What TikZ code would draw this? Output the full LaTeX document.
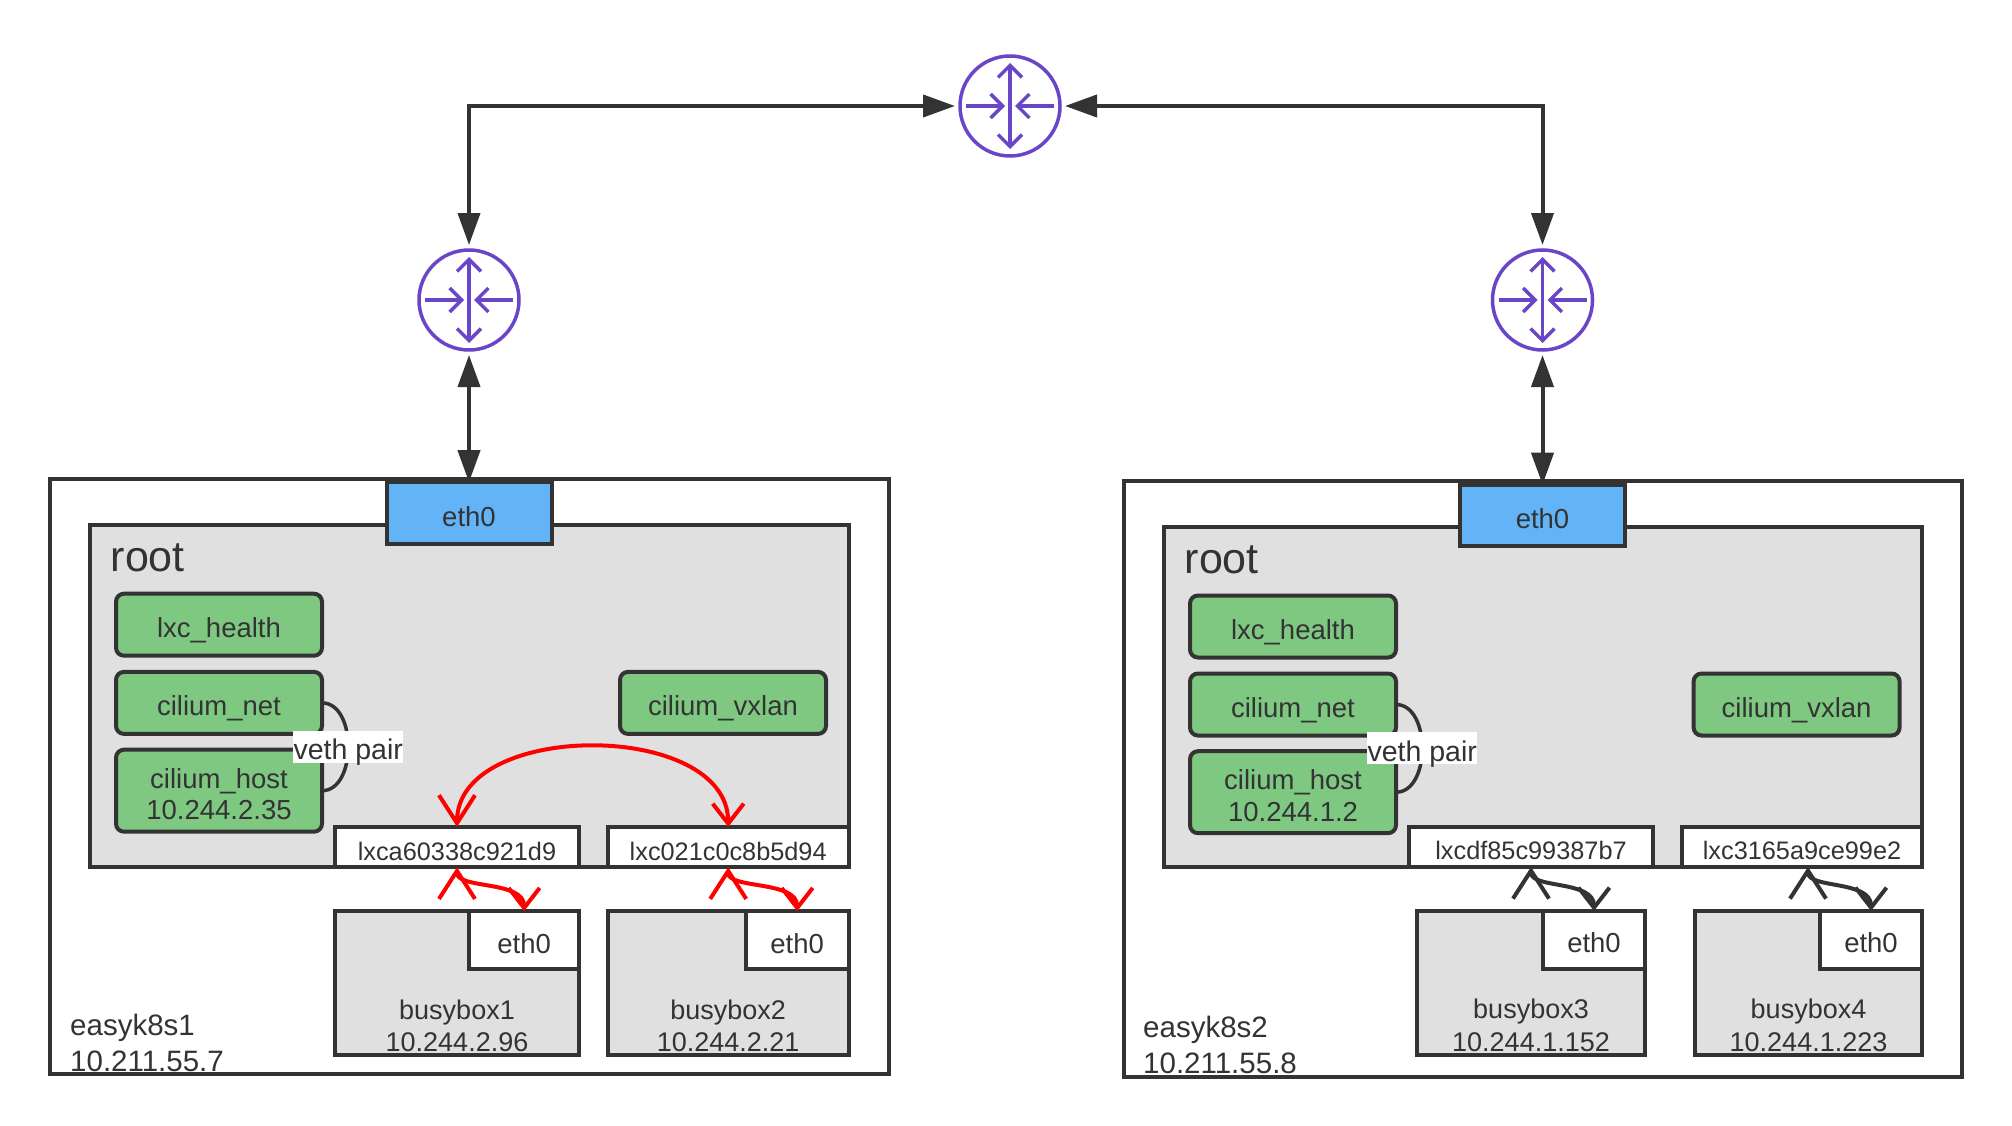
\documentclass[tikz,border=0pt]{standalone}
\usepackage{fontspec}
\setmainfont{Liberation Sans}
\usetikzlibrary{arrows.meta,positioning}
\definecolor{ink}{HTML}{333333}
\definecolor{panel}{HTML}{E0E0E0}
\definecolor{iface}{HTML}{7FC882}
\definecolor{nic}{HTML}{63B3F7}
\definecolor{hub}{HTML}{6A45C8}
\tikzset{
x=1pt,y=-1pt,
box/.style={draw=ink,line width=4pt,rectangle,anchor=north west,inner sep=0pt,outer sep=0pt,text=ink,text height=26pt,text depth=0pt,font=\fontsize{27.5}{32}\selectfont},
host/.style={box,fill=white},
netns/.style={box,fill=panel},
nic/.style={box,fill=nic},
port/.style={box,fill=white,font=\fontsize{25.3}{30}\selectfont},
green/.style={box,fill=iface,rounded corners=8pt,minimum width=206pt,minimum height=62pt},
pod/.style={box,fill=panel,align=center,text height=137.4pt,minimum height=144pt,font=\fontsize{27}{32.7}\selectfont},
podeth/.style={box,fill=white,minimum height=58pt},
router/.style={circle,draw=hub,line width=3.5pt,minimum size=100pt,inner sep=0pt,outer sep=5pt},
title/.style={anchor=base west,inner sep=0pt,text=ink,font=\fontsize{43}{50}\selectfont},
nodename/.style={anchor=base west,inner sep=0pt,text=ink,align=left,font=\fontsize{29.5}{36}\selectfont},
vethtag/.style={fill=white,inner sep=0pt,minimum width=110pt,minimum height=32pt,text=ink,text height=26pt,text depth=0pt,font=\fontsize{28.5}{32}\selectfont},
link/.style={draw=ink,line width=4pt,{Triangle[length=32pt,width=22pt]}-{Triangle[length=32pt,width=22pt]}},
veth/.style={draw=ink,line width=3.5pt},
flow/.style={line width=4pt,{Straight Barb[length=28pt,width=36pt]}-{Straight Barb[length=20pt,width=31pt]}},
icon/.style={draw=hub,line width=3.5pt}
}
\begin{document}
\begin{tikzpicture}
\useasboundingbox (0,0) rectangle (2012,1126);
\begin{scope}[yshift=-1.2pt]
% left machine
\node[host,minimum width=839pt,minimum height=595pt] (host1) at (50,478) {};
\node[netns,minimum width=758.6pt,minimum height=342.5pt] (root1) at (90,523.5) {};
\node[nic,minimum width=165pt,minimum height=61.7pt] (eth1) at (386.5,481) {eth0};
\node[title] (roottext1) at (110.5,570) {root};
\node[green] (health1) at (116,592.5) {lxc\_health};
\node[green] (net1) at (116,670.7) {cilium\_net};
\node[green,align=center,text height=58pt,minimum height=82pt,font=\fontsize{27.5}{31.6}\selectfont] (chost1) at (116,748.5) {cilium\_host\\10.244.2.35};
\node[green] (vxlan1) at (620,670.7) {cilium\_vxlan};
\node[port,minimum width=244pt,minimum height=40.3pt] (lxc1) at (335,825.7) {lxca60338c921d9};
\node[port,minimum width=241pt,minimum height=40.3pt] (lxc2) at (607.7,825.7) {lxc021c0c8b5d94};
\node[pod,minimum width=244pt] (bb1) at (335,910) {busybox1\\10.244.2.96};
\node[podeth,minimum width=109.7pt] (bbeth1) at (469.3,910) {eth0};
\node[pod,minimum width=241pt] (bb2) at (607.7,910) {busybox2\\10.244.2.21};
\node[podeth,minimum width=103pt] (bbeth2) at (745.7,910) {eth0};
\node[nodename] (hostname1) at (70,1070) {easyk8s1\\10.211.55.7};
% right machine
\node[host,minimum width=838pt,minimum height=595.7pt] (host2) at (1124,480) {};
\node[netns,minimum width=758pt,minimum height=340pt] (root2) at (1164,525.7) {};
\node[nic,minimum width=165pt,minimum height=61.5pt] (eth2) at (1460,483.5) {eth0};
\node[title] (roottext2) at (1184.5,572) {root};
\node[green] (health2) at (1190,594.3) {lxc\_health};
\node[green] (net2) at (1190,672.3) {cilium\_net};
\node[green,align=center,text height=58pt,minimum height=82pt,font=\fontsize{27.5}{31.6}\selectfont] (chost2) at (1190,750) {cilium\_host\\10.244.1.2};
\node[green] (vxlan2) at (1693.6,672.3) {cilium\_vxlan};
\node[port,minimum width=243.4pt,minimum height=40pt] (lxc3) at (1409.3,825.7) {lxcdf85c99387b7};
\node[port,minimum width=240pt,minimum height=40pt] (lxc4) at (1682,825.7) {lxc3165a9ce99e2};
\node[pod,minimum width=228pt] (bb3) at (1417,909.7) {busybox3\\10.244.1.152};
\node[podeth,minimum width=102pt] (bbeth3) at (1543,909.7) {eth0};
\node[pod,minimum width=227pt] (bb4) at (1695,909.7) {busybox4\\10.244.1.223};
\node[podeth,minimum width=102pt] (bbeth4) at (1820,909.7) {eth0};
\node[nodename] (hostname2) at (1143,1072.5) {easyk8s2\\10.211.55.8};
\end{scope}
% routers
\node[router] (r0) at (1010,106) {};
\node[router] (r1) at (469,300) {};
\node[router] (r2) at (1542.5,300) {};
\foreach \rt in {r0,r1,r2} {
  \draw[icon,{Straight Barb[length=12pt,width=24pt]}-{Straight Barb[length=12pt,width=24pt]}] (\rt.center) ++(0,-43) -- ++(0,86);
  \draw[icon,-{Straight Barb[length=12pt,width=24pt]}] (\rt.center) ++(-44,0) -- ++(39,0);
  \draw[icon,-{Straight Barb[length=12pt,width=24pt]}] (\rt.center) ++(44,0) -- ++(-39,0);
}
\draw[link] (r1) |- (r0);
\draw[link] (r2) |- (r0);
\draw[link] (r1) -- (eth1);
\draw[link] (r2) -- (eth2);
% veth pairs
\draw[veth] (net1.east) .. controls +(35,0) and +(35,0) .. node[vethtag] (vethtext1) {veth pair} (chost1.east);
\draw[veth] (net2.east) .. controls +(35,0) and +(35,0) .. node[vethtag] (vethtext2) {veth pair} (chost2.east);
% traffic
\draw[flow,draw=red] (lxc1.north) .. controls +(0,-107) and +(0,-107) .. (lxc2.north);
\draw[flow,draw=red] (lxc1.south) .. controls +(0,22) and +(0,-31) .. (bbeth1.north);
\draw[flow,draw=red] (lxc2.south) .. controls +(0,22) and +(0,-31) .. (bbeth2.north);
\draw[flow,draw=ink] (lxc3.south) .. controls +(0,22) and +(0,-31) .. (bbeth3.north);
\draw[flow,draw=ink] ([xshift=6pt]lxc4.south) .. controls +(0,22) and +(0,-31) .. (bbeth4.north);
\end{tikzpicture}
\end{document}
